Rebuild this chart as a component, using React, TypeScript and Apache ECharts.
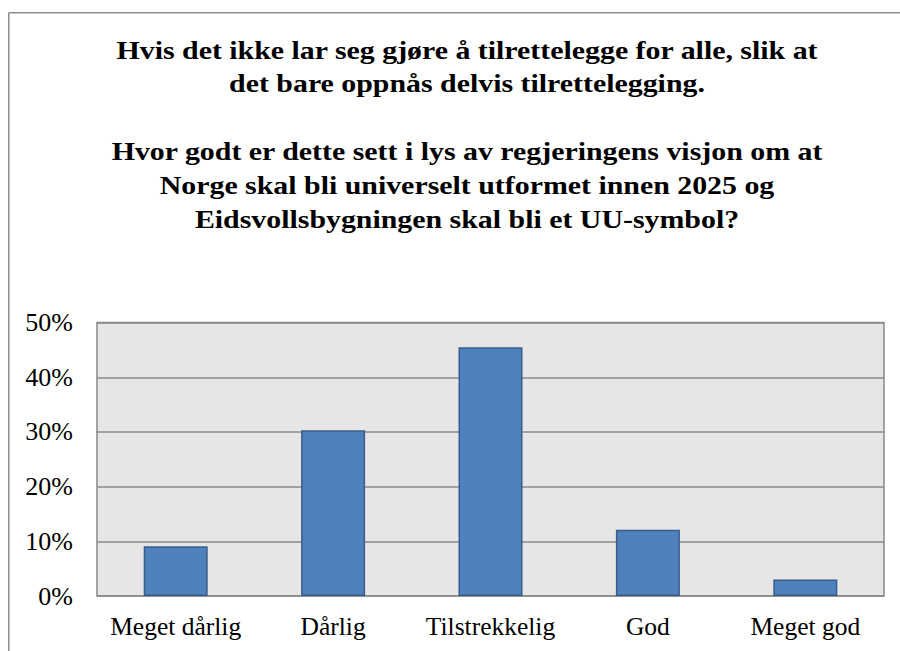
import React, { useEffect, useRef } from "react";
import * as echarts from "echarts";

const titleLines = [
  "Hvis det ikke lar seg gjøre å tilrettelegge for alle, slik at",
  "det bare oppnås delvis tilrettelegging.",
  "",
  "Hvor godt er dette sett i lys av regjeringens visjon om at",
  "Norge skal bli universelt utformet innen 2025 og",
  "Eidsvollsbygningen skal bli et UU-symbol?",
];
const categories = ["Meget dårlig", "Dårlig", "Tilstrekkelig", "God", "Meget god"];
const values = [9.1, 30.3, 45.5, 12.1, 3.0];
const yTicks = [0, 10, 20, 30, 40, 50];

export default function App() {
  const ref = useRef<HTMLDivElement>(null);
  useEffect(() => {
    if (!ref.current) return;
    const chart = echarts.init(ref.current, null, { renderer: "svg" });
    const serif = "Liberation Serif";
    chart.setOption({
      animation: false,
      backgroundColor: "#ffffff",
      graphic: [
        {
          type: "line",
          shape: { x1: 8.75, y1: 12.75, x2: 900, y2: 12.75 },
          style: { stroke: "#8c8c8c", lineWidth: 1.5 },
          silent: true,
        },
        {
          type: "line",
          shape: { x1: 8.75, y1: 12.75, x2: 8.75, y2: 651 },
          style: { stroke: "#8c8c8c", lineWidth: 1.5 },
          silent: true,
        },
        {
          type: "text",
          x: 467,
          y: 33,
          scaleX: 1.195,
          silent: true,
          style: {
            text: titleLines.join("\n"),
            fontFamily: serif,
            fontWeight: "bold",
            fontSize: 25,
            lineHeight: 33.8,
            fill: "#000000",
            align: "center",
            verticalAlign: "top",
          },
        },
      ],
      grid: {
        left: 97,
        right: 16,
        top: 322.6,
        bottom: 55,
        show: true,
        backgroundColor: "#e6e6e6",
        borderColor: "#888888",
        borderWidth: 1.5,
      },
      xAxis: {
        type: "category",
        data: categories,
        axisLine: { show: false },
        axisTick: { show: false },
        axisLabel: {
          margin: 17,
          fontFamily: serif,
          fontSize: 25.5,
          color: "#000000",
          interval: 0,
        },
      },
      yAxis: {
        type: "value",
        min: 0,
        max: 50,
        interval: 10,
        axisLine: { show: false },
        axisTick: { show: false },
        splitLine: { show: true, lineStyle: { color: "#8a8a8a", width: 1.5 } },
        axisLabel: {
          margin: 24,
          fontFamily: serif,
          fontSize: 26,
          color: "#000000",
          formatter: (v: number) => (yTicks.includes(v) ? v + "%" : ""),
        },
      },
      series: [
        {
          type: "bar",
          data: values,
          barWidth: 64,
          itemStyle: {
            color: "#4f81bd",
            borderColor: "#385d8a",
            borderWidth: 1.5,
          },
        },
      ],
    });
    return () => chart.dispose();
  }, []);
  return (
    <div
      ref={ref}
      style={{ position: "absolute", left: 0, top: 0, width: 900, height: 651 }}
    />
  );
}
